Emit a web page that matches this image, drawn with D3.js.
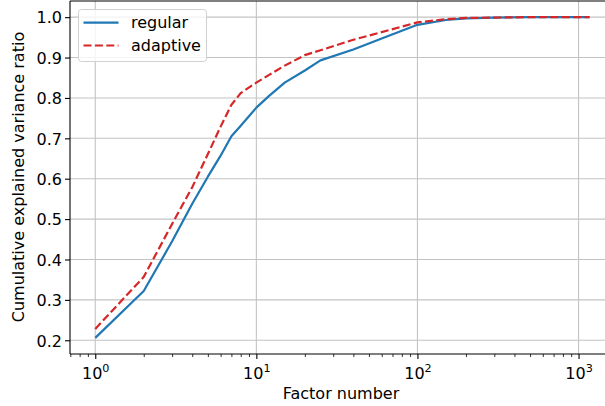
<!DOCTYPE html>
<html><head><meta charset="utf-8">
<script src="https://cdn.jsdelivr.net/npm/d3@7"></script>
<style>body{margin:0;background:#fff}svg{display:block;font-family:"DejaVu Sans",sans-serif}</style>
</head><body><svg id="c" width="605" height="406"></svg>
<script>
const factors = [1,2,3,4,5,6,7,8,10,12,15,20,25,40,60,100,150,200,300,500,1170];
const regular = [0.206,0.322,0.445,0.538,0.605,0.657,0.705,0.731,0.776,0.805,0.838,0.868,0.893,0.92,0.947,0.981,0.993,0.997,0.999,1.0,1.0];
const adaptive = [0.228,0.357,0.488,0.579,0.661,0.729,0.783,0.812,0.838,0.857,0.88,0.906,0.918,0.944,0.963,0.987,0.995,0.998,0.999,1.0,1.0];
const yTicks = [0.2,0.3,0.4,0.5,0.6,0.7,0.8,0.9,1.0];
const xTicks = [1,10,100,1000];
const seriesNames = ["regular","adaptive"];

const svg = d3.select("#c");
const L=70, R=614, T=1, B=354;
const FS=16;
const x = d3.scaleLog().domain([0.697,1660]).range([L,R]);
const y = d3.scaleLinear().domain([0.166,1.04]).range([B,T]);
const grid="#c3c3c3";

// grid
svg.append("g").selectAll("line").data(xTicks).join("line")
  .attr("x1",d=>x(d)).attr("x2",d=>x(d)).attr("y1",T).attr("y2",B)
  .attr("stroke",grid).attr("stroke-width",1.1);
svg.append("g").selectAll("line").data(yTicks).join("line")
  .attr("x1",L).attr("x2",R).attr("y1",d=>y(d)).attr("y2",d=>y(d))
  .attr("stroke",grid).attr("stroke-width",1.1);

// lines
const line = d3.line().x((d,i)=>x(factors[i])).y(d=>y(d));
svg.append("path").attr("d",line(regular)).attr("fill","none")
  .attr("stroke","#1f77b4").attr("stroke-width",2.2).attr("stroke-linejoin","round");
svg.append("path").attr("d",line(adaptive)).attr("fill","none")
  .attr("stroke","#d62728").attr("stroke-width",2.2).attr("stroke-dasharray","8,3.4");

// spines
svg.append("line").attr("x1",L).attr("x2",L).attr("y1",T).attr("y2",B).attr("stroke","#000").attr("stroke-width",1.1);
svg.append("line").attr("x1",L).attr("x2",R).attr("y1",B).attr("y2",B).attr("stroke","#000").attr("stroke-width",1.1);
svg.append("line").attr("x1",L).attr("x2",R).attr("y1",T).attr("y2",T).attr("stroke","#000").attr("stroke-width",1.1);

// y axis
const ya = svg.append("g").attr("transform",`translate(${L},0)`)
  .call(d3.axisLeft(y).tickValues(yTicks).tickSize(5).tickPadding(4).tickFormat(d3.format(".1f")));
ya.select(".domain").remove();
ya.selectAll("line").attr("stroke-width",1.1);
ya.selectAll("text").attr("font-size",FS).attr("font-family","DejaVu Sans").attr("fill","#000").attr("dy","0.36em").attr("x",-8);

// x axis
const minor=[];
for (let e=-1;e<4;e++) for (let k=2;k<10;k++){const v=k*Math.pow(10,e); if(v>=0.697&&v<=1660) minor.push(v);}
const xm = svg.append("g").attr("transform",`translate(0,${B})`)
  .call(d3.axisBottom(x).tickValues(minor).tickSize(3).tickFormat(""));
xm.select(".domain").remove();
xm.selectAll("line").attr("stroke-width",0.8);
const xa = svg.append("g").attr("transform",`translate(0,${B})`)
  .call(d3.axisBottom(x).tickValues(xTicks).tickSize(5).tickFormat(""));
xa.select(".domain").remove();
xa.selectAll("line").attr("stroke-width",1.1);
xa.selectAll(".tick").each(function(d){
  const t=d3.select(this).append("text").attr("y",24.5).attr("text-anchor","middle")
    .attr("font-size",FS).attr("fill","#000").attr("font-family","DejaVu Sans");
  t.append("tspan").text("10");
  t.append("tspan").attr("font-size",11.2).attr("dy",-6.5).text(Math.round(Math.log10(d)));
});

// labels
svg.append("text").attr("x",341).attr("y",399).attr("text-anchor","middle")
  .attr("font-size",FS).text("Factor number");
svg.append("text").attr("transform","translate(24,177) rotate(-90)").attr("text-anchor","middle")
  .attr("font-size",FS).text("Cumulative explained variance ratio");

// legend
const lg = svg.append("g");
lg.append("rect").attr("x",78.5).attr("y",9.5).attr("width",128).attr("height",52).attr("rx",3)
  .attr("fill","#fff").attr("fill-opacity",0.8).attr("stroke","#d0d0d0").attr("stroke-width",1);
const styles=[{c:"#1f77b4",dash:null},{c:"#d62728",dash:"8,3.4"}];
seriesNames.forEach((n,i)=>{
  const cy = 22.7 + i*22.8;
  lg.append("line").attr("x1",83.5).attr("x2",118.5).attr("y1",cy).attr("y2",cy)
    .attr("stroke",styles[i].c).attr("stroke-width",2.2).attr("stroke-dasharray",styles[i].dash);
  lg.append("text").attr("x",131).attr("y",cy).attr("dy","0.36em").attr("font-size",FS).text(n);
});
</script></body></html>
